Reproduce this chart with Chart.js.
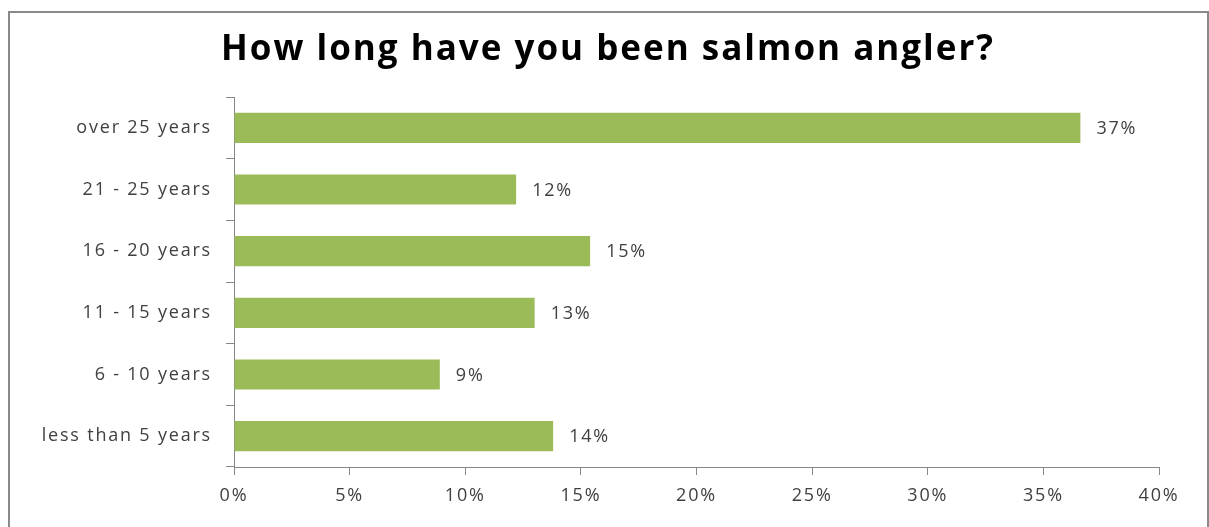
<!DOCTYPE html>
<html>
<head>
<meta charset="utf-8">
<script src="https://cdn.jsdelivr.net/npm/chart.js@4"></script>
<style>
  html, body { margin: 0; padding: 0; background: #fff; }
  #wrap { position: relative; width: 1209px; height: 527px; overflow: hidden; }
  #frame { position: absolute; left: 8px; top: 11px; width: 1197px; height: 530px; border: 2px solid #8a8a8a; }
  #myChart { position: absolute; left: 0; top: 0; }
</style>
</head>
<body>
<div id="wrap">
  <div id="frame"></div>
  <canvas id="myChart" width="1209" height="527"></canvas>
</div>
<script>
// Categorias y porcentajes (de arriba hacia abajo)
const chartTitle = "How long have you been salmon angler?";
const categories = ["over 25 years", "21 - 25 years", "16 - 20 years", "11 - 15 years", "6 - 10 years", "less than 5 years"];
const percentages = [36.6, 12.2, 15.4, 13.0, 8.9, 13.8];
const xTicks = [0, 5, 10, 15, 20, 25, 30, 35, 40];

const textColor = "#404040";
const axisColor = "#868686";
const labelFont = { family: "Open Sans", size: 18 };

// Texto un poco mas espaciado
const spacing = {
    id: "spacing",
    beforeLayout(chart) { chart.ctx.letterSpacing = "1.8px"; },
    beforeDraw(chart) { chart.ctx.letterSpacing = "1.8px"; }
};

// Titulo centrado sobre todo el lienzo
const bigTitle = {
    id: "bigTitle",
    afterDraw(chart) {
        const ctx = chart.ctx;
        ctx.save();
        ctx.letterSpacing = "2px";
        ctx.font = "bold 35px 'Open Sans'";
        ctx.fillStyle = "#000";
        ctx.textAlign = "center";
        ctx.textBaseline = "middle";
        ctx.fillText(chartTitle, 608, 50);
        ctx.restore();
    }
};

// Dibuja el porcentaje al final de cada barra
const valueLabels = {
    id: "valueLabels",
    afterDatasetsDraw(chart) {
        const ctx = chart.ctx;
        const meta = chart.getDatasetMeta(0);
        ctx.save();
        ctx.font = labelFont.size + "px '" + labelFont.family + "'";
        ctx.fillStyle = textColor;
        ctx.textAlign = "left";
        ctx.textBaseline = "middle";
        meta.data.forEach((bar, i) => {
            ctx.fillText(Math.round(percentages[i]) + "%", bar.x + 16, bar.y + 1);
        });
        ctx.restore();
    }
};

let ctx = document.getElementById("myChart");
let myBarChart = new Chart(ctx, {
    type: "bar",
    data: {
        labels: categories,
        datasets: [{
            data: percentages,
            backgroundColor: "#9bbb59",
            borderWidth: 0,
            barPercentage: 0.49,
            categoryPercentage: 1
        }]
    },
    options: {
        indexAxis: "y",
        responsive: false,
        animation: false,
        layout: { padding: { left: 14, right: 50, top: 97, bottom: 0 } },
        plugins: {
            legend: { display: false },
            tooltip: { enabled: false },
            title: { display: false }
        },
        scales: {
            x: {
                min: 0,
                max: 40,
                afterBuildTicks(scale) {
                    scale.ticks = xTicks.map(v => ({ value: v }));
                },
                afterFit(scale) { scale.height = 60; },
                grid: { display: true, drawOnChartArea: false, drawTicks: true, tickLength: 8, color: axisColor },
                border: { color: axisColor, width: 1 },
                ticks: {
                    color: textColor,
                    font: labelFont,
                    padding: 10,
                    maxRotation: 0,
                    callback: v => v + "%"
                }
            },
            y: {
                afterFit(scale) { scale.width = 220; },
                grid: { display: true, drawOnChartArea: false, drawTicks: true, tickLength: 8, color: axisColor, offset: true },
                border: { color: axisColor, width: 1 },
                ticks: { color: textColor, font: labelFont, padding: 14 }
            }
        }
    },
    plugins: [spacing, valueLabels, bigTitle]
});
</script>
</body>
</html>
